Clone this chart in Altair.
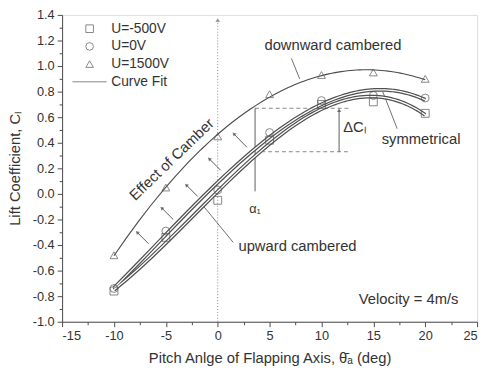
import altair as alt
import pandas as pd

# ---- data ----
pitch = [-10, -5, 0, 5, 10, 15, 20]
cl_m500 = [-0.76, -0.34, -0.05, 0.42, 0.70, 0.72, 0.63]
cl_0 = [-0.74, -0.29, 0.03, 0.48, 0.73, 0.77, 0.75]
cl_1500 = [-0.48, 0.05, 0.45, 0.78, 0.93, 0.95, 0.90]
series_names = ["U=-500V", "U=0V", "U=1500V"]
legend_items = ["U=-500V", "U=0V", "U=1500V", "Curve Fit"]
legend_shapes = ["square", "circle", "triangle-up", "M-4.5,0L4.5,0"]

x_ticks = [-15 + 2.5 * i for i in range(17)]
y_ticks = [round(-1.0 + 0.1 * i, 1) for i in range(25)]

# annotation arrows between curves (tail -> head)
arr_tail_x = [-6.66, -4.29, -1.93, 0.28, 2.81]
arr_tail_y = [-0.39, -0.20, -0.02, 0.185, 0.365]
arr_head_x = [-7.77, -5.40, -3.03, -0.82, 1.55]
arr_head_y = [-0.30, -0.11, 0.07, 0.275, 0.47]

# leader lines: downward, symmetrical, upward
lead_x = [7.1, 15.9, -1.33]
lead_y = [1.06, 0.80, -0.10]
lead_x2 = [7.9, 17.3, 1.5]
lead_y2 = [0.90, 0.51, -0.38]

alpha_x = 3.6
alpha_y = [0.02, 0.67]
dash_x = [3.6, 4.2]
dash_x2 = [12.6, 12.6]
dash_y = [0.67, 0.33]
delta_x = 11.7
delta_y = [0.33, 0.655]

FONT = "Liberation Sans"
INK = "#333333"
LINE = "#4a4a4a"

df = pd.DataFrame({
    "pitch": pitch * 3,
    "cl": cl_m500 + cl_0 + cl_1500,
    "series": [s for s in series_names for _ in pitch],
})

xs = alt.Scale(domain=[-15, 25], nice=False, zero=False)
ys = alt.Scale(domain=[-1.0, 1.4], nice=False, zero=False)

x_axis = alt.Axis(
    values=x_ticks,
    title="Pitch Anlge of Flapping Axis,  θ̄ₐ (deg)",
    labelExpr="datum.value % 5 === 0 ? replace(format(datum.value, 'd'), '\u2212', '-') : ''",
    tickSize={"condition": {"test": "datum.value % 5 === 0", "value": 5}, "value": 3},
    grid=False, labelFontSize=13, titleFontSize=15, labelFont=FONT, titleFont=FONT,
    labelColor=INK, titleColor=INK, titleFontWeight="normal", domainColor=LINE,
    tickColor=LINE, labelPadding=3, titlePadding=8, labelOverlap=False,
)
y_axis = alt.Axis(
    values=y_ticks,
    title="Lift Coefficient, Cₗ",
    labelExpr="abs(round(datum.value * 10)) % 2 === 0 ? replace(format(datum.value, '.1f'), '\u2212', '-') : ''",
    tickSize={"condition": {"test": "abs(round(datum.value * 10)) % 2 === 0", "value": 5}, "value": 3},
    grid=False, labelFontSize=13, titleFontSize=15, labelFont=FONT, titleFont=FONT,
    labelColor=INK, titleColor=INK, titleFontWeight="normal", domainColor=LINE,
    tickColor=LINE, labelPadding=3, titlePadding=10, labelOverlap=False,
)


def X(f):
    return alt.X(f, type="quantitative", scale=xs, axis=x_axis)


def Y(f):
    return alt.Y(f, type="quantitative", scale=ys, axis=y_axis)


base = alt.Chart(df)

points = base.mark_point(filled=False, stroke="#555555", size=64, strokeWidth=1).encode(
    x=X("pitch"),
    y=Y("cl"),
    shape=alt.Shape(
        "series:N",
        scale=alt.Scale(domain=legend_items, range=legend_shapes),
        legend=alt.Legend(
            title=None, orient="none", legendX=21, legendY=7,
            labelFontSize=14, labelFont=FONT, labelColor=INK,
            symbolSize=60, symbolStrokeColor="#555555", symbolFillColor="transparent",
            symbolStrokeWidth=1, labelOffset=15, rowPadding=4, padding=0,
        ),
    ),
)

fit_thin = base.transform_filter(alt.datum.series == "U=1500V").transform_regression(
    "pitch", "cl", method="poly", order=3
).mark_line(color=LINE, strokeWidth=1.1).encode(x=X("pitch"), y=Y("cl"))

thick_src = base.transform_filter(alt.datum.series != "U=1500V").transform_regression(
    "pitch", "cl", method="poly", order=3, groupby=["series"]
)
fit_thick = thick_src.mark_line(color="#505050", strokeWidth=3.8).encode(
    x=X("pitch"), y=Y("cl"), detail="series:N")
fit_core = thick_src.mark_line(color="white", strokeWidth=1.3).encode(
    x=X("pitch"), y=Y("cl"), detail="series:N")

# vertical dotted line at 0 with arrow
zero_line = alt.Chart(pd.DataFrame({"x": [0], "y": [-1.0], "y2": [1.36]})).mark_rule(
    color="#888888", strokeDash=[1, 2], strokeWidth=1).encode(x=X("x"), y=Y("y"), y2="y2")
zero_head = alt.Chart(pd.DataFrame({"x": [0], "y": [1.36]})).mark_point(
    shape="triangle-up", filled=True, color="#777777", size=22).encode(x=X("x"), y=Y("y"))

# arrows between curves
arr_df = pd.DataFrame({"x": arr_tail_x, "y": arr_tail_y, "x2": arr_head_x, "y2": arr_head_y})
arrows = alt.Chart(arr_df).mark_rule(color=LINE, strokeWidth=0.9).encode(
    x=X("x"), y=Y("y"), x2="x2", y2="y2")
arrow_heads = alt.Chart(arr_df).mark_point(
    shape="triangle-up", filled=True, color=LINE, size=18, angle=315).encode(x=X("x2"), y=Y("y2"))

# leader lines
lead_df = pd.DataFrame({"x": lead_x, "y": lead_y, "x2": lead_x2, "y2": lead_y2})
leaders = alt.Chart(lead_df).mark_rule(color=LINE, strokeWidth=0.8).encode(
    x=X("x"), y=Y("y"), x2="x2", y2="y2")

# alpha_1 line, dashed lines, delta CL arrow
alpha_line = alt.Chart(pd.DataFrame({"x": [alpha_x], "y": [alpha_y[0]], "y2": [alpha_y[1]]})).mark_rule(
    color=LINE, strokeWidth=0.9).encode(x=X("x"), y=Y("y"), y2="y2")
dash_df = pd.DataFrame({"x": dash_x, "x2": dash_x2, "y": dash_y})
dashes = alt.Chart(dash_df).mark_rule(color="#777777", strokeDash=[4, 3], strokeWidth=0.9).encode(
    x=X("x"), x2="x2", y=Y("y"))
delta_line = alt.Chart(pd.DataFrame({"x": [delta_x], "y": [delta_y[0]], "y2": [delta_y[1]]})).mark_rule(
    color=LINE, strokeWidth=0.9).encode(x=X("x"), y=Y("y"), y2="y2")
delta_head = alt.Chart(pd.DataFrame({"x": [delta_x], "y": [delta_y[1]]})).mark_point(
    shape="triangle-up", filled=True, color=LINE, size=18).encode(x=X("x"), y=Y("y"))


def label(text, x, y, size=15, align="center", angle=0, baseline="middle"):
    kw = dict(font=FONT, fontSize=size, color=INK, align=align, baseline=baseline)
    if angle:
        kw["angle"] = angle
    return alt.Chart(pd.DataFrame({"x": [x], "y": [y], "t": [text]})).mark_text(**kw).encode(
        x=X("x"), y=Y("y"), text="t:N")


texts = [
    label("downward cambered", 11.1, 1.165),
    label("symmetrical", 19.6, 0.43),
    label("upward cambered", 2.0, -0.41, align="left"),
    label("Effect of Camber", -4.45, 0.27, angle=316),
    label("Velocity = 4m/s", 23.2, -0.82, align="right"),
    label("ΔCₗ", 12.1, 0.52, align="left"),
    label("α₁", alpha_x, -0.12, size=13),
]

chart = alt.layer(
    zero_line, zero_head, dashes, alpha_line, delta_line, delta_head,
    arrows, arrow_heads, leaders,
    fit_thin, fit_thick, fit_core, points, *texts,
).properties(
    width=422, height=312,
    autosize=alt.AutoSizeParams(type="none"),
    padding={"left": 55, "top": 4, "right": 6, "bottom": 45},
).configure_view(stroke="#555555", strokeWidth=1).configure(background="white")

chart.save("out.html", embed_options={"renderer": "svg", "actions": False})
